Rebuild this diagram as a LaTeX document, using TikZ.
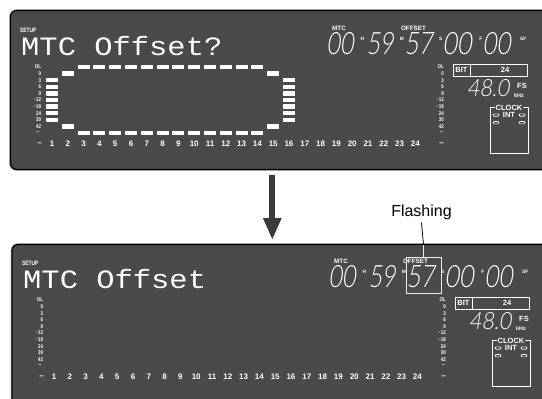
\documentclass[tikz,border=0pt]{standalone}
\usepackage{fontspec}
\usepackage{graphicx}
\usetikzlibrary{arrows.meta}
\setmainfont{Liberation Sans}
\newfontfamily\hv{Liberation Sans}
\newfontfamily\mono{Liberation Mono}
\newfontfamily\djv{DejaVu Sans}
\IfFontExistsTF{Lato Light}{\newfontfamily\lcd{Lato Light}[FakeSlant=0.18]}{%
 \IfFontExistsTF{Fira Sans Light}{\newfontfamily\lcd{Fira Sans Light}[FakeSlant=0.18]}{%
 \newfontfamily\lcd{Liberation Sans}[FakeSlant=0.18]}}
\definecolor{panel}{RGB}{74,74,74}
\definecolor{arrowc}{RGB}{58,58,58}
\newcommand\cnd[1]{\scalebox{0.8}[1]{#1}}
\tikzset{
 wt/.style={inner sep=0pt, text=white},
 sc/.style={wt, font=\hv\bfseries\fontsize{5.5}{6}\selectfont},
 chl/.style={wt, font=\hv\bfseries\fontsize{8}{9}\selectfont},
 tag/.style={wt, font=\hv\bfseries\fontsize{6.3}{7}\selectfont},
 tinyl/.style={wt, font=\hv\bfseries\fontsize{4.8}{5}\selectfont},
 boxl/.style={wt, font=\hv\bfseries\fontsize{7.5}{8}\selectfont},
 ttl/.style={wt, anchor=base west, font=\mono\fontsize{26.5}{30}\selectfont},
 seg/.style={inner sep=0pt, anchor=south west, text=white},
 wline/.style={draw=white, line width=0.7pt},
 halo/.style={draw=gray!55, line width=2.8pt, rounded corners=6pt},
 panelshape/.style={fill=panel, draw=black, line width=1.2pt, rounded corners=6pt},
}
\newcommand\mbar[2]{\fill[white] ({46+(#1-1)*15.8},{67+6.6*#2-2.25}) rectangle ++(12,4.5);}
\newcommand\panelstuff[2]{%
 \node[tag] (#1setup) at (28.3,30) {\scalebox{0.78}[1]{SETUP}};
 \node[ttl] (#1title) at (21,55) {\scalebox{1.15}[1]{#2}};
 \node[tag] (#1mtc) at (339,28.4) {MTC};
 \node[tag] (#1off) at (413.5,28.4) {OFFSET};
 \node[seg] (#1hh) at (326.5,55) {\resizebox{27pt}{22pt}{\lcd 00}};
 \node[seg] (#1mm) at (366.5,55) {\resizebox{27pt}{22pt}{\lcd 59}};
 \node[seg] (#1ss) at (404.5,55) {\resizebox{28pt}{22pt}{\lcd 57}};
 \node[seg] (#1ff) at (442.5,55) {\resizebox{29pt}{22pt}{\lcd 00}};
 \node[seg] (#1sf) at (482.5,55) {\resizebox{28pt}{22pt}{\lcd 00}};
 \node[tinyl] (#1lh) at (362.3,38.5) {H};
 \node[tinyl] (#1lm) at (401.8,38.5) {M};
 \node[tinyl] (#1ls) at (440.8,38.5) {S};
 \node[tinyl] (#1lf) at (480.8,38.5) {F};
 \node[tinyl] (#1lsf) at (523.3,38.5) {SF};
 \foreach \t [count=\k from 0] in {OL,0,3,6,9,{{\djv◦}12},{{\djv◦}18},24,30,42} {
   \node[sc, anchor=east] (#1l\k) at (41.3,{67+6.6*\k}) {\cnd{\t}};
   \node[sc, anchor=east] (#1r\k) at (444,{67+6.6*\k}) {\cnd{\t}};
 }
 \node[sc] (#1ld) at (37.8,133) {–};
 \node[sc] (#1rd) at (441.5,133) {–};
 \node[chl] (#1cl) at (39.5,144) {–};
 \node[chl] (#1cr) at (441.5,144) {–};
 \foreach \n in {1,...,24} {\node[chl] (#1c\n) at ({52+(\n-1)*15.8},144) {\n};}
 \draw[wline] (453,64) rectangle (527,76);
 \draw[wline] (470,64) -- (470,76);
 \node[boxl] (#1bit) at (461.5,70) {BIT};
 \node[boxl] (#1bitv) at (505,70) {24};
 \node[seg] (#1fs) at (467,97) {\resizebox{42pt}{17pt}{\lcd 48.0}};
 \node[boxl] (#1fsl) at (522,85.5) {FS};
 \node[sc] (#1khz) at (519,96) {kHz};
 \draw[wline] (490,107.3) rectangle (528,153.3);
 \node[boxl, fill=panel, inner xsep=0.7pt, inner ysep=0.3pt] (#1clk) at (509,107.5) {CLOCK};
 \node[boxl] (#1int) at (509,115) {INT};
 \foreach \px in {496,522} \foreach \py in {115,122.7}
   {\draw[white, line width=0.6pt, rounded corners=1.1pt] ({\px-3},{\py-1.2}) rectangle ({\px+3},{\py+1.2});}
}
\begin{document}
\begin{tikzpicture}[x=1pt,y=-1pt]
\useasboundingbox (0,0) rectangle (542,399);
\clip (0,0) rectangle (542,399);
\fill[white] (0,0) rectangle (542,399);
% panel 1
\draw[halo] (560,10.5) -- (10.5,10.5) -- (10.5,169.5) -- (560,169.5);
\draw[panelshape] (560,10.5) -- (10.5,10.5) -- (10.5,169.5) -- (560,169.5);
\panelstuff{a}{MTC Offset?}
\foreach \k in {2,...,8} {\mbar{1}{\k}\mbar{16}{\k}}
\mbar{2}{1}\mbar{2}{9}\mbar{15}{1}\mbar{15}{9}
\foreach \n in {3,...,14} {\mbar{\n}{0}\mbar{\n}{10}}
% arrow
\coordinate (atop) at (272.3,175);
\coordinate (abot) at (272.3,240);
\draw[arrowc, line width=6pt, -{Triangle[length=22pt,width=17pt]}] (atop) -- (abot);
% panel 2
\draw[halo] (560,244.5) -- (12,244.5) -- (12,412) -- (560,412);
\draw[panelshape] (560,244.5) -- (12,244.5) -- (12,412) -- (560,412);
\begin{scope}[shift={(2,233)}]
\panelstuff{b}{MTC Offset}
\end{scope}
% flashing annotation
\node[inner sep=0pt, font=\hv\fontsize{16}{16}\selectfont, text=black] (flash) at (421.5,212) {Flashing};
\node[draw=white!85!gray, line width=0.8pt, minimum width=35pt, minimum height=36pt, inner sep=0pt] (flbox) at (423.5,275) {};
\coordinate (p2top) at (423.5,244.5);
\draw[black, line width=0.8pt] (p2top) -- ([yshift=-3pt]flash.south);
\draw[white!85!gray, line width=0.8pt] (flbox.north) -- (p2top);
\end{tikzpicture}
\end{document}
